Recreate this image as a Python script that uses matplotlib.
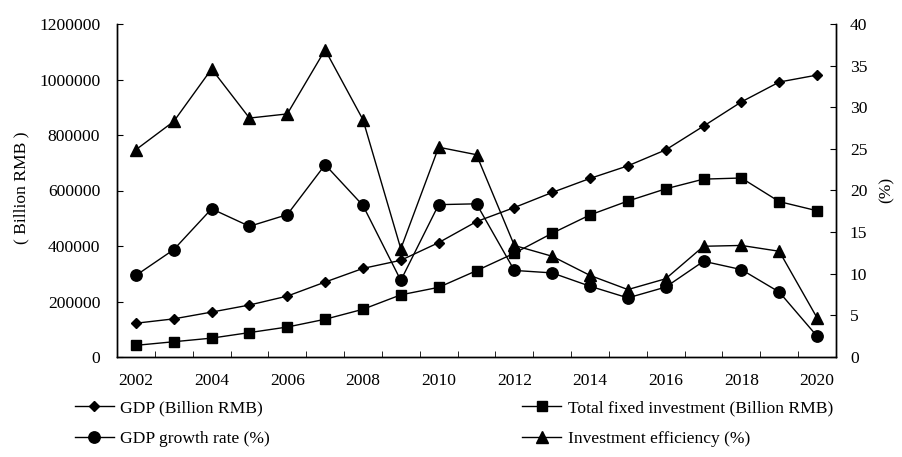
import matplotlib
matplotlib.use("Agg")
import matplotlib.pyplot as plt
from matplotlib.ticker import FixedLocator, FuncFormatter

plt.rcParams['font.family'] = ['Liberation Serif', 'Noto Sans CJK SC', 'DejaVu Sans']

years = list(range(2002, 2021))
gdp = [121717, 137422, 161840, 187319, 219439, 270092, 319245, 348518, 412119, 487940,
       538580, 592963, 643563, 688858, 746395, 832036, 919281, 990865, 1015986]
investment = [42000, 55000, 68000, 88000, 108000, 136000, 172000, 224000, 251000, 311000,
              374000, 446000, 512000, 562000, 606000, 641000, 645000, 560000, 527000]
gdp_growth = [9.8, 12.9, 17.8, 15.7, 17.1, 23.1, 18.2, 9.2, 18.3, 18.4,
              10.4, 10.1, 8.5, 7.1, 8.4, 11.5, 10.5, 7.8, 2.5]
inv_eff = [24.9, 28.3, 34.6, 28.7, 29.2, 36.9, 28.5, 13.0, 25.2, 24.3,
           13.4, 12.1, 9.8, 8.1, 9.4, 13.3, 13.4, 12.7, 4.7]
year_labels = [2002, 2004, 2006, 2008, 2010, 2012, 2014, 2016, 2018, 2020]
left_ticks = [0, 200000, 400000, 600000, 800000, 1000000, 1200000]
right_ticks = [0, 5, 10, 15, 20, 25, 30, 35, 40]

FS = 12.6
fig = plt.figure(figsize=(9.02, 4.57), dpi=100)
ax = fig.add_axes([117/902, 1-357/457, (836-117)/902, (357-24)/457])
ax2 = ax.twinx()

lw = 1.0
l1, = ax.plot(years, gdp, color='black', lw=lw, marker='D', ms=5.0, label='GDP (Billion RMB)')
l2, = ax.plot(years, investment, color='black', lw=lw, marker='s', ms=7.6, label='Total fixed investment (Billion RMB)')
l3, = ax2.plot(years, gdp_growth, color='black', lw=lw, marker='o', ms=8.2, label='GDP growth rate (%)')
l4, = ax2.plot(years, inv_eff, color='black', lw=lw, marker='^', ms=8.0, label='Investment efficiency (%)')

ax.set_xlim(years[0]-0.5, years[-1]+0.5)
ax.set_ylim(0, 1200000)
ax2.set_ylim(0, 40)
ax.set_yticks(left_ticks)
ax.yaxis.set_major_formatter(FuncFormatter(lambda v, p: '%d' % v))
ax2.set_yticks(right_ticks)
ax2.yaxis.set_major_formatter(FuncFormatter(lambda v, p: '%d' % v))

ax.set_xticks(year_labels)
ax.set_xticklabels([str(y) for y in year_labels])
ax.xaxis.set_minor_locator(FixedLocator([y - 0.5 for y in years] + [years[-1] + 0.5]))
ax.tick_params(axis='x', which='major', length=0, pad=11.5, labelsize=FS)
ax.tick_params(axis='x', which='minor', direction='in', length=4)
ax.tick_params(axis='y', direction='in', length=4.5, pad=12, labelsize=FS)
ax2.tick_params(axis='y', direction='in', length=4.5, pad=10, labelsize=FS)

for a in (ax, ax2):
    a.spines['top'].set_visible(False)
    for s in a.spines.values():
        s.set_linewidth(1.0)

fig.text(21/902, 1-188/457, '( Billion RMB )', rotation=90, ha='center', va='center', fontsize=FS)
fig.text(887/902, 1-190/457, '(%)', rotation=90, ha='center', va='center', fontsize=FS)

fig.legend(handles=[l1, l3, l2, l4], loc='upper left', ncol=2, bbox_to_anchor=(75/902, 1-400/457),
           frameon=False, fontsize=FS, borderpad=0, borderaxespad=0, handlelength=2.2,
           handletextpad=0.4, columnspacing=14.4, labelspacing=0.84)

fig.savefig('out.png', dpi=100)
